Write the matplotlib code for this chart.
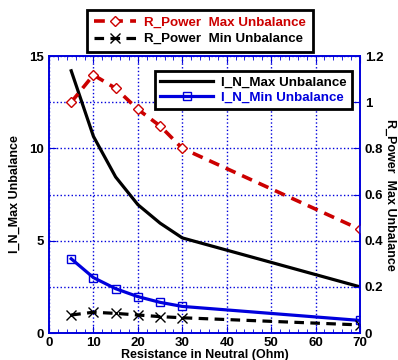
import matplotlib.pyplot as plt
from matplotlib.ticker import MultipleLocator

plt.rcParams["font.family"] = ["Liberation Sans", "DejaVu Sans"]
plt.rcParams["font.weight"] = "bold"

x = [5, 10, 15, 20, 25, 30, 70]
in_max = [14.2, 10.65, 8.45, 6.95, 5.95, 5.15, 2.5]
in_min = [4.02, 3.0, 2.4, 1.97, 1.66, 1.44, 0.68]
rp_max = [1.0, 1.118, 1.06, 0.969, 0.897, 0.80, 0.449]
rp_min = [0.078, 0.09, 0.085, 0.078, 0.071, 0.066, 0.035]

fig = plt.figure(figsize=(3.98, 3.6), dpi=100)
ax = fig.add_axes([0.1231, 0.075, 0.7814, 0.7694])
ax2 = ax.twinx()

grid_c = "#0000dd"
l1, = ax.plot(x, in_max, color="black", lw=2.3, label="I_N_Max Unbalance")
l2, = ax.plot(x, in_min, color="#0000dd", lw=2.3, marker="s", ms=6,
              mfc="none", mec="#0000dd", mew=1, label="I_N_Min Unbalance")
r1, = ax2.plot(x, rp_max, color="#cc0000", lw=2.6, ls=(0, (3, 2)),
               marker="D", ms=5, mfc="white", mec="#cc0000", mew=1,
               label="R_Power  Max Unbalance")
r2, = ax2.plot(x, rp_min, color="black", lw=2.3, ls=(0, (3, 2)),
               marker="x", ms=6.5, mew=1, label="R_Power  Min Unbalance")

ax.set_xlim(0, 70)
ax.set_ylim(0, 15)
ax2.set_ylim(0, 1.2)
ax.set_xticks(range(0, 71, 10))
ax.set_yticks([0, 5, 10, 15])
ax.yaxis.set_minor_locator(MultipleLocator(2.5))
ax.xaxis.set_minor_locator(MultipleLocator(2))
ax2.set_yticks([0, 0.2, 0.4, 0.6, 0.8, 1, 1.2])
ax2.set_yticklabels(["0", "0.2", "0.4", "0.6", "0.8", "1", "1.2"])

ax.grid(True, which="major", axis="x", color=grid_c, ls=":", lw=1)
ax.grid(True, which="both", axis="y", color=grid_c, ls=":", lw=1)

ax.tick_params(axis="x", which="both", direction="in", top=True, colors=grid_c,
               labelcolor="black", labelsize=9.5, pad=3)
ax.tick_params(axis="x", which="major", length=5)
ax.tick_params(axis="x", which="minor", length=3)
ax.tick_params(axis="y", which="major", direction="in", length=5, colors=grid_c,
               labelcolor="black", labelsize=9.5)
ax.tick_params(axis="y", which="minor", length=0)
ax2.tick_params(axis="y", direction="in", length=5, colors=grid_c,
                labelcolor="black", labelsize=9.5)
for a in (ax, ax2):
    for s in a.spines.values():
        s.set_color(grid_c)
        s.set_linewidth(1.2)

ax.set_xlabel("Resistance in Neutral (Ohm)", fontsize=9, fontweight="bold",
              labelpad=0)
ax.set_ylabel("I_N_Max Unbalance", fontsize=9, fontweight="bold", labelpad=6)
ax2.set_ylabel("R_Power  Max Unbalance", fontsize=9, fontweight="bold",
               rotation=270, labelpad=9)

leg1 = fig.legend(handles=[r1, r2], loc="center",
                  bbox_to_anchor=(0.5025, 0.914), fancybox=False,
                  edgecolor="black", framealpha=1, fontsize=9.6,
                  handlelength=3.2, borderpad=0.5, labelspacing=0.3,
                  handletextpad=0.6)
leg1.get_frame().set_linewidth(2)
leg1.get_texts()[0].set_color("#cc0000")

leg2 = ax2.legend(handles=[l1, l2], loc="center",
                  bbox_to_anchor=(0.637, 0.751), bbox_transform=fig.transFigure,
                  fancybox=False, edgecolor="black", framealpha=1, fontsize=9.6,
                  handlelength=4.0, borderpad=0.4, labelspacing=0.2,
                  handletextpad=0.6)
leg2.get_frame().set_linewidth(2)
leg2.get_texts()[1].set_color("#0000dd")

fig.savefig("out.png", dpi=100)
